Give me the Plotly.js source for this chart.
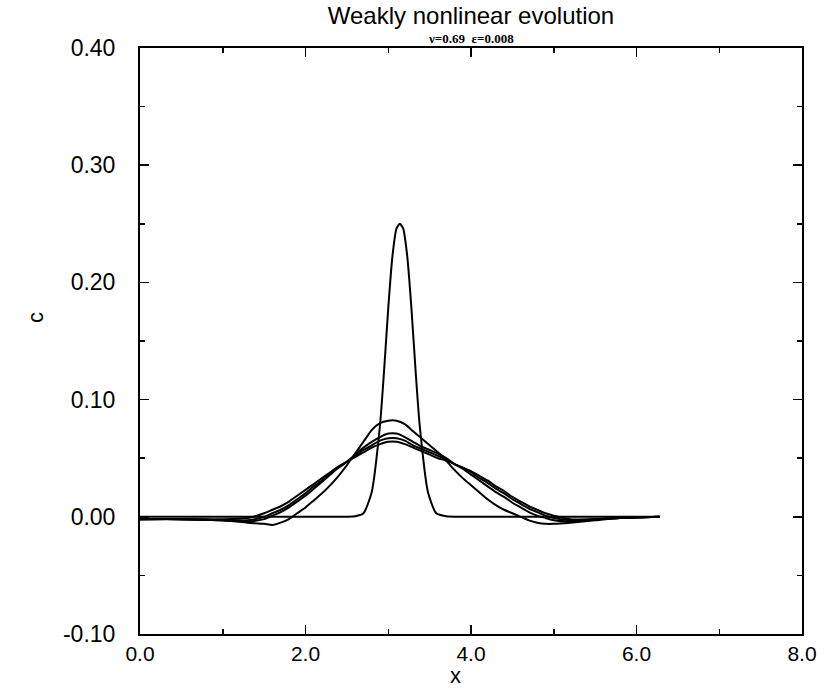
<!DOCTYPE html>
<html>
<head>
<meta charset="utf-8">
<script src="https://cdn.plot.ly/plotly-3.0.1.min.js"></script>
<style>html,body{margin:0;padding:0;background:#fff;}#chart{width:839px;height:688px;}</style>
</head>
<body>
<div id="chart"></div>
<script>
// Initial narrow pulse
const x0 = [0, 2.4, 2.6, 2.7, 2.8, 2.9, 2.95, 3.0, 3.05, 3.1, 3.14, 3.18, 3.23, 3.28, 3.33, 3.38, 3.48, 3.58, 3.7, 3.9, 6.28];
const c0 = [0, 0, 0.0005, 0.003, 0.021, 0.078, 0.125, 0.178, 0.222, 0.246, 0.250, 0.246, 0.222, 0.178, 0.125, 0.078, 0.021, 0.003, 0.0005, 0, 0];

// Later profiles (shared x grid)
const xs = [0, 0.5, 1.0, 1.3, 1.5, 1.6, 1.7, 1.8, 1.9, 2.0, 2.1, 2.2, 2.3, 2.4, 2.5, 2.6, 2.7, 2.8, 2.9, 3.0, 3.1, 3.2, 3.3, 3.4, 3.5, 3.6, 3.7, 3.8, 3.9, 4.0, 4.1, 4.2, 4.3, 4.4, 4.5, 4.6, 4.7, 4.8, 4.9, 5.0, 5.2, 5.5, 5.8, 6.28];
const c1 = [-0.002, -0.002, -0.003, -0.005, -0.006, -0.007, -0.005, -0.002, 0.003, 0.008, 0.014, 0.020, 0.027, 0.035, 0.044, 0.054, 0.064, 0.074, 0.080, 0.082, 0.082, 0.079, 0.073, 0.067, 0.061, 0.055, 0.048, 0.040, 0.033, 0.027, 0.021, 0.015, 0.010, 0.006, 0.003, 0.000, -0.003, -0.005, -0.006, -0.006, -0.005, -0.003, -0.001, 0.000];
const c2 = [-0.002, -0.002, -0.003, -0.004, -0.002, 0.001, 0.004, 0.008, 0.013, 0.018, 0.024, 0.030, 0.036, 0.042, 0.047, 0.053, 0.059, 0.064, 0.068, 0.071, 0.071, 0.068, 0.064, 0.060, 0.057, 0.054, 0.050, 0.045, 0.041, 0.036, 0.031, 0.026, 0.021, 0.017, 0.012, 0.008, 0.004, 0.001, -0.001, -0.003, -0.004, -0.002, -0.001, 0.000];
const c3 = [-0.002, -0.002, -0.003, -0.003, 0.000, 0.003, 0.006, 0.010, 0.015, 0.020, 0.026, 0.031, 0.037, 0.042, 0.047, 0.052, 0.057, 0.061, 0.065, 0.067, 0.067, 0.065, 0.061, 0.058, 0.055, 0.052, 0.049, 0.045, 0.042, 0.038, 0.033, 0.029, 0.024, 0.020, 0.015, 0.011, 0.007, 0.004, 0.001, -0.001, -0.003, -0.002, -0.001, 0.000];
const c4 = [-0.002, -0.002, -0.002, -0.001, 0.003, 0.006, 0.009, 0.013, 0.018, 0.023, 0.028, 0.033, 0.038, 0.043, 0.047, 0.051, 0.055, 0.059, 0.062, 0.064, 0.064, 0.062, 0.059, 0.056, 0.053, 0.050, 0.048, 0.045, 0.042, 0.039, 0.035, 0.031, 0.026, 0.022, 0.017, 0.013, 0.009, 0.006, 0.003, 0.001, -0.002, -0.002, -0.001, 0.000];

const xTicks = [0, 2, 4, 6, 8];
const xTickText = ['0.0', '2.0', '4.0', '6.0', '8.0'];
const yTicks = [-0.1, 0, 0.1, 0.2, 0.3, 0.4];
const yTickText = ['-0.10', '0.00', '0.10', '0.20', '0.30', '0.40'];

const line = {color: '#000', width: 2, shape: 'spline', smoothing: 0.6};
const traces = [
  {x: x0, y: c0, mode: 'lines', line: line},
  {x: xs, y: c1, mode: 'lines', line: line},
  {x: xs, y: c2, mode: 'lines', line: line},
  {x: xs, y: c3, mode: 'lines', line: line},
  {x: xs, y: c4, mode: 'lines', line: line}
];

const font = {family: 'Liberation Sans, Arial, sans-serif', color: '#000'};
const axisCommon = {
  showline: true, linecolor: '#000', linewidth: 2, mirror: 'allticks',
  ticks: 'inside', ticklen: 9, tickwidth: 1.5, tickcolor: '#000',
  showgrid: false, zeroline: false
};

const layout = {
  width: 839, height: 688,
  margin: {l: 140, r: 37, t: 48, b: 54},
  paper_bgcolor: '#fff', plot_bgcolor: '#fff',
  showlegend: false,
  title: {text: 'Weakly nonlinear evolution', font: Object.assign({size: 24}, font),
          x: 0.5, xref: 'paper', xanchor: 'center', y: 1 - 16/688, yref: 'container', yanchor: 'middle'},
  xaxis: Object.assign({}, axisCommon, {
    range: [0, 8], tickvals: xTicks, ticktext: xTickText,
    tickfont: Object.assign({size: 21}, font),
    minor: {dtick: 1, ticks: 'inside', ticklen: 5, tickcolor: '#000'}
  }),
  yaxis: Object.assign({}, axisCommon, {
    range: [-0.1, 0.4], tickvals: yTicks, ticktext: yTickText, ticklabelstandoff: 18,
    tickfont: Object.assign({size: 23}, font),
    minor: {dtick: 0.05, ticks: 'inside', ticklen: 5, tickcolor: '#000'}
  }),
  annotations: [
    {text: 'ν=0.69  ε=0.008', xref: 'paper', yref: 'paper', x: 0.5, y: 1, yshift: 10,
     xanchor: 'center', yanchor: 'middle', showarrow: false,
     font: {family: 'Liberation Serif, Times New Roman, serif', size: 13, color: '#000', weight: 'bold'}},
    {text: 'x', xref: 'paper', yref: 'paper', x: (455 - 140) / (839 - 140 - 37), y: 0, yshift: -41,
     xanchor: 'center', yanchor: 'middle', showarrow: false, font: Object.assign({size: 22}, font)},
    {text: 'c', xref: 'paper', yref: 'paper', x: 0, xshift: -105, y: (634 - 318) / (688 - 48 - 54),
     xanchor: 'center', yanchor: 'middle', textangle: -90, showarrow: false, font: Object.assign({size: 22}, font)}
  ]
};

Plotly.newPlot('chart', traces, layout, {displayModeBar: false, staticPlot: true});
</script>
</body>
</html>
